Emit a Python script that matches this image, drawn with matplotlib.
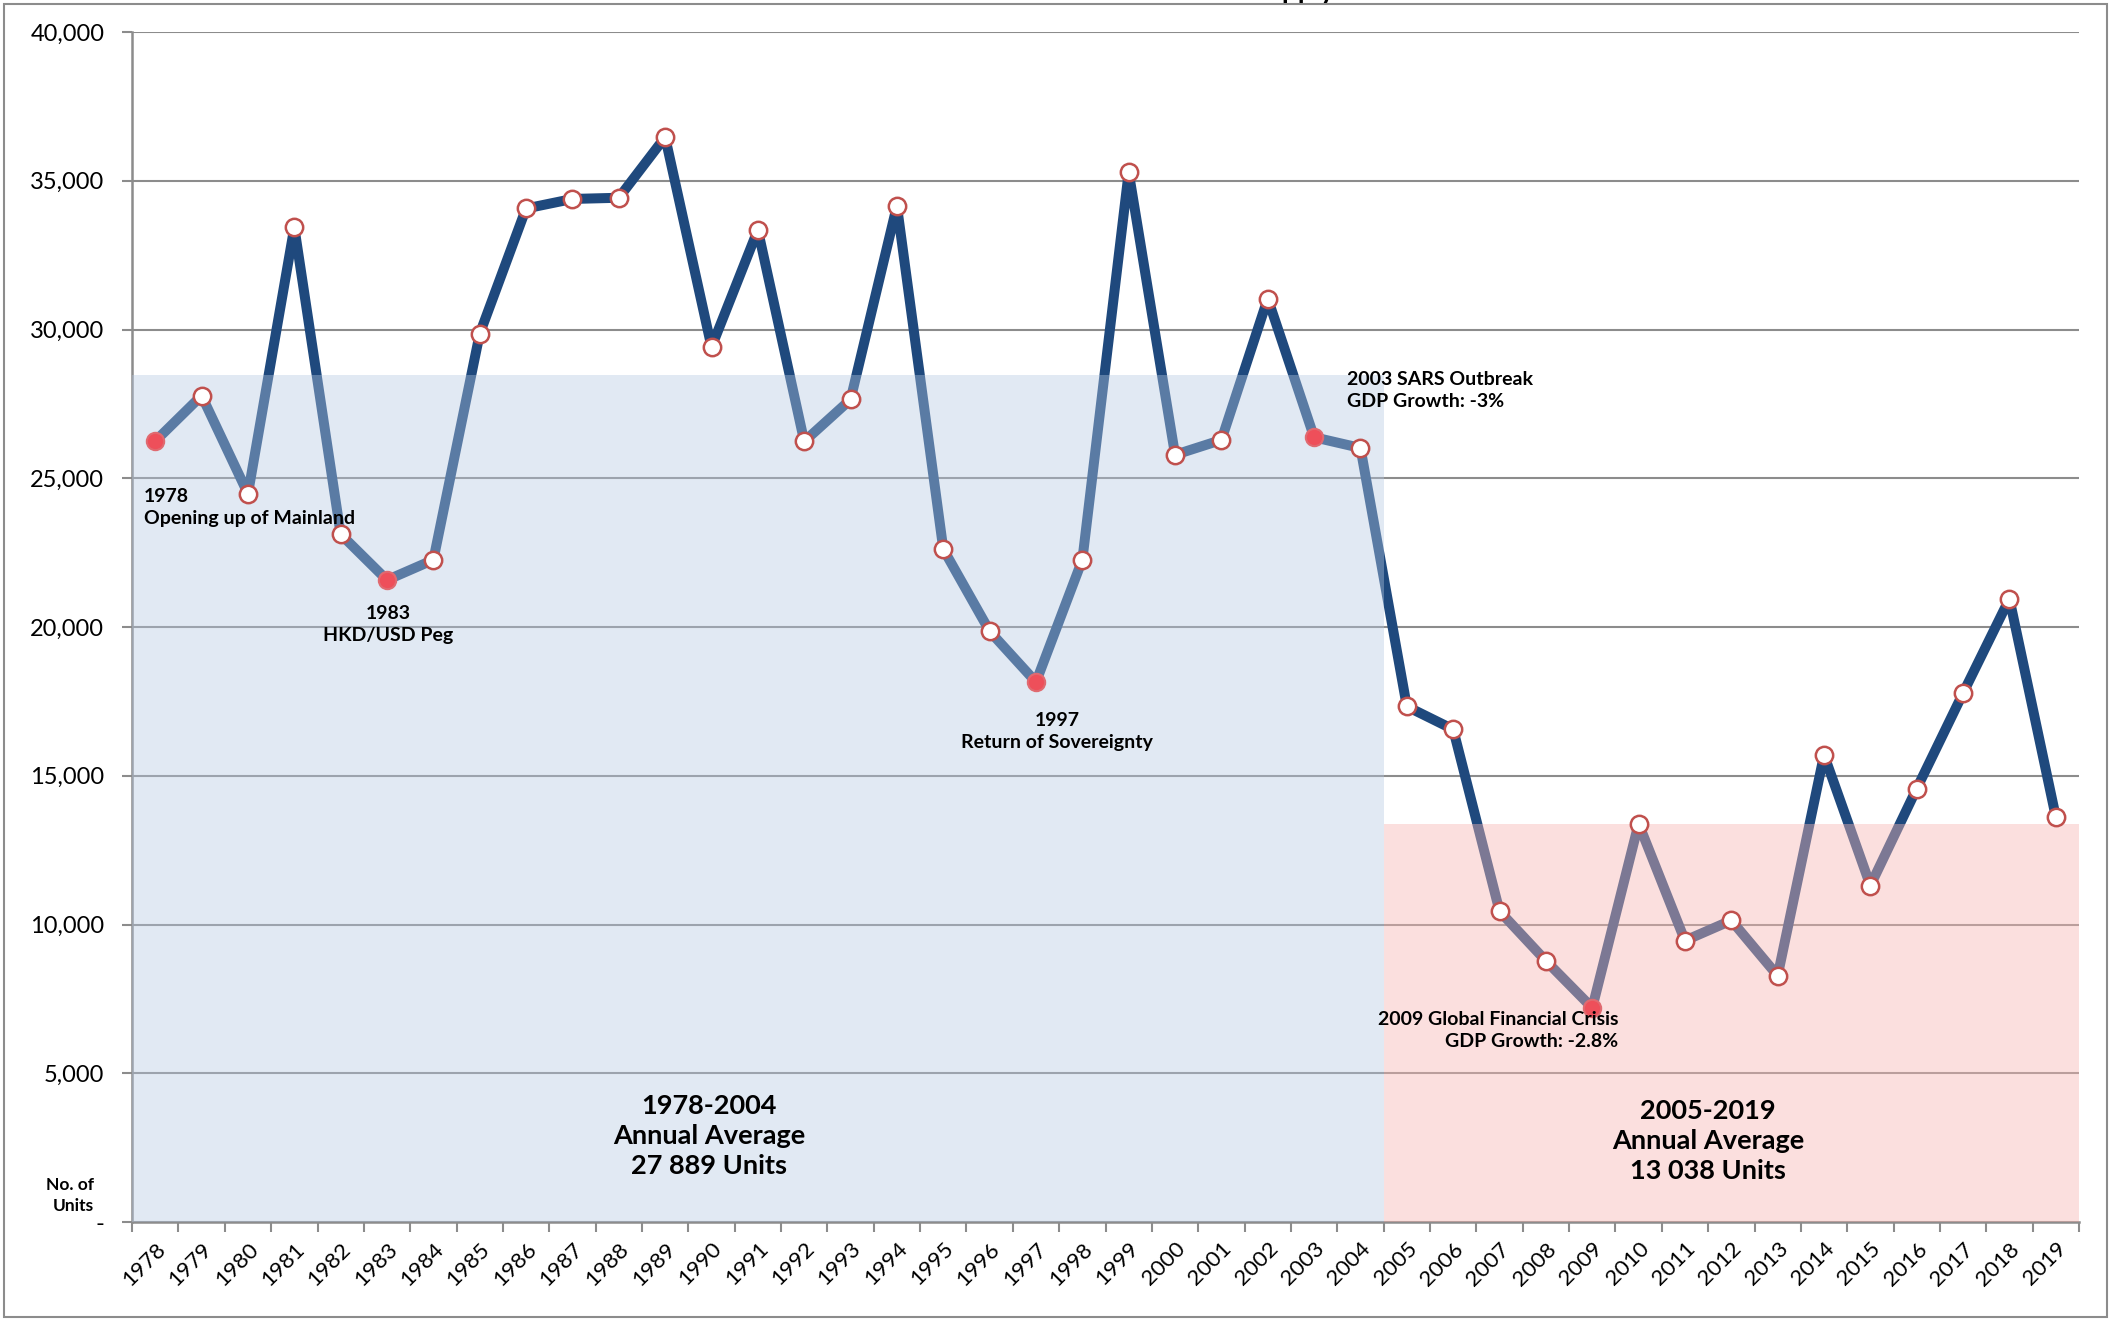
import matplotlib
matplotlib.use("Agg")
import matplotlib.pyplot as plt
from matplotlib.patches import Rectangle
from matplotlib.ticker import FuncFormatter

years = list(range(1978, 2020))
units = [26250, 27780, 24480, 33440, 23120, 21580, 22260, 29860, 34070, 34390,
         34430, 36470, 29410, 33350, 26240, 27650, 34160, 22620, 19860, 18150,
         22260, 35290, 25790, 26290, 31040, 26380, 26020, 17330, 16560, 10450,
         8780, 7200, 13390, 9460, 10140, 8280, 15700, 11310, 14570, 17780,
         20950, 13620]
highlight_years = [1978, 1983, 1997, 2003, 2009]

period_labels = ["1978-2004\nAnnual Average\n27 889 Units",
                 "2005-2019\nAnnual Average\n13 038 Units"]
period_start = [1978, 2005]
period_end = [2004, 2019]
period_tops = [28460, 13390]

events = ["1978\nOpening up of Mainland", "1983\nHKD/USD Peg",
          "1997\nReturn of Sovereignty", "2003 SARS Outbreak\nGDP Growth: -3%",
          "2009 Global Financial Crisis\nGDP Growth: -2.8%"]

yticks = [0, 5000, 10000, 15000, 20000, 25000, 30000, 35000, 40000]

plt.rcParams['font.family'] = ['Lato', 'DejaVu Sans']

fig = plt.figure(figsize=(21.10, 13.19), dpi=100)
ax = fig.add_axes([0.0626, 0.0735, 0.9227, 0.9022])

x = list(range(len(years)))
navy = '#1F497D'
ax.plot(x, units, color=navy, lw=7.2, zorder=2, solid_joinstyle='round')

# shaded periods (drawn over the line, semi-transparent)
region_colors = [(181/255, 200/255, 225/255), (248/255, 183/255, 179/255)]
region_alpha = [0.40, 0.43]
for s, e, top, c, a in zip(period_start, period_end, period_tops, region_colors, region_alpha):
    x0 = years.index(s) - 0.5
    x1 = years.index(e) + 0.5
    ax.add_patch(Rectangle((x0, 0), x1 - x0, top, facecolor=c, alpha=a,
                           edgecolor='none', zorder=3))

# markers
for i, (yr, v) in enumerate(zip(years, units)):
    if yr in highlight_years:
        ax.plot(i, v, 'o', ms=12.5, mfc='#EE4F5A', mec='#E06A70', mew=1.5, zorder=4)
    else:
        ax.plot(i, v, 'o', ms=12.5, mfc='white', mec='#C0504D', mew=1.8, zorder=4)

ax.set_xlim(-0.5, len(years) - 0.5)
ax.set_ylim(0, 40000)

ax.set_yticks(yticks)
ax.yaxis.set_major_formatter(FuncFormatter(lambda v, p: '-' if v == 0 else f'{int(v):,}'))
ax.grid(axis='y', color='#8C8C8C', lw=1.5, zorder=0)
ax.set_axisbelow(True)

ax.set_xticks(x)
ax.set_xticklabels([str(y) for y in years], rotation=45, ha='right',
                   rotation_mode='anchor', fontsize=16)
ax.set_xticks([i - 0.5 for i in range(len(years) + 1)], minor=True)
ax.tick_params(axis='x', which='major', length=0, pad=12)
ax.tick_params(axis='x', which='minor', length=7, width=1.5, color='#8C8C8C')
ax.tick_params(axis='y', which='major', length=7, width=1.5, color='#8C8C8C',
               labelsize=17, pad=13)

for sp in ['top', 'right']:
    ax.spines[sp].set_visible(False)
for sp in ['left', 'bottom']:
    ax.spines[sp].set_color('#8C8C8C')
    ax.spines[sp].set_linewidth(1.8)

# event annotations
ev_pos = [(-0.24, 24030, 'left'), (5.03, 20090, 'center'), (19.45, 16490, 'center'),
          (25.7, 27940, 'left'), (31.56, 6450, 'right')]
for txt, (ex, ey, ha) in zip(events, ev_pos):
    ax.text(ex, ey, txt, ha=ha, va='center', fontsize=14, fontweight='bold',
            linespacing=1.35, zorder=5, multialignment=ha)

# period annotations
pl_pos = [(11.95, 2900), (33.5, 2720)]
for txt, (px, py) in zip(period_labels, pl_pos):
    ax.text(px, py, txt, ha='center', va='center', fontsize=19.5, fontweight='bold',
            linespacing=1.3, zorder=5)

ax.text(-1.32, 900, "No. of\nUnits", ha='right', va='center', fontsize=12.5,
        fontweight='bold', linespacing=1.35, clip_on=False)

# title (mostly cut off at top of picture)
fig.text(1335 / 2110, 1 + 2 / 1319, "Private Residential Supply", ha='right',
         va='baseline', fontsize=20, fontweight='bold')

# outer frame
fig.add_artist(Rectangle((4 / 2110, 2 / 1319), 1 - 7 / 2110, 1 - 6 / 1319,
                         transform=fig.transFigure, fill=False,
                         edgecolor='#8C8C8C', lw=1.5))

fig.savefig('out.png', dpi=100)
